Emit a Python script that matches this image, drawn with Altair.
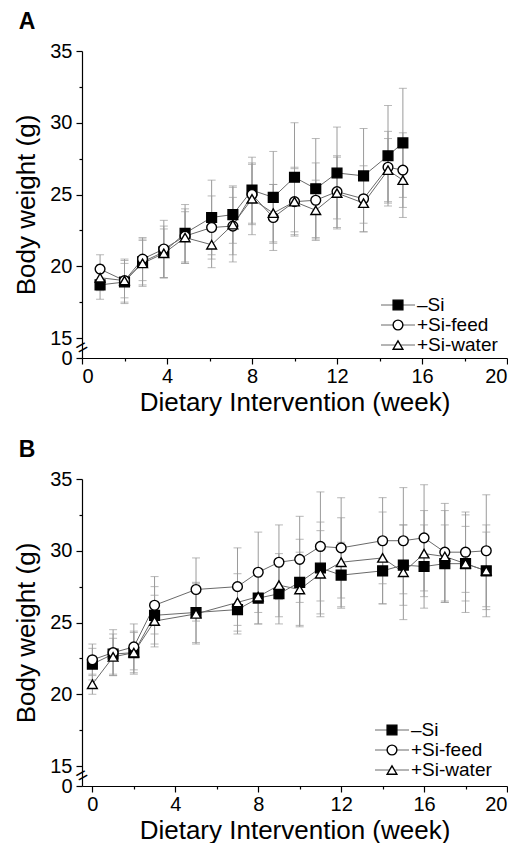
import altair as alt
import pandas as pd

FONT = "Liberation Sans"
series = ["\u2013Si", "+Si-feed", "+Si-water"]
shapes = ["square", "circle", "triangle-up"]
fills = ["black", "white", "white"]
sizes = [95, 95, 140]

# Panel A
weeks_a = [0.85, 2.0, 2.85, 3.85, 4.85, 6.1, 7.1, 8.0, 9.0, 10.0, 11.0, 12.0, 13.25, 14.4, 15.1]
a_nosi = [18.7, 18.9, 20.3, 21.0, 22.3, 23.4, 23.6, 25.3, 24.8, 26.2, 25.4, 26.5, 26.3, 27.7, 28.6]
a_nosi_sd = [1.0, 1.5, 1.6, 1.8, 2.0, 2.6, 2.0, 2.3, 3.2, 3.8, 3.5, 3.2, 3.3, 3.5, 3.8]
a_feed = [19.8, 19.0, 20.5, 21.2, 22.1, 22.7, 22.8, 25.0, 23.4, 24.5, 24.6, 25.2, 24.7, 26.9, 26.7]
a_feed_sd = [1.0, 1.2, 1.5, 2.0, 1.9, 2.2, 2.0, 2.1, 2.3, 2.3, 2.6, 2.5, 2.3, 2.5, 2.6]
a_water = [19.2, 19.0, 20.2, 20.9, 22.0, 21.5, 22.9, 24.7, 23.7, 24.5, 23.9, 25.1, 24.4, 26.7, 26.0]
a_water_sd = [0.9, 1.5, 1.6, 1.7, 1.8, 1.6, 2.6, 2.5, 2.0, 2.4, 2.1, 2.5, 2.0, 2.2, 2.6]

# Panel B
weeks_b = [0, 1, 2, 3, 5, 7, 8, 9, 10, 11, 12, 14, 15, 16, 17, 18, 19]
b_nosi = [22.1, 22.8, 22.9, 25.5, 25.7, 25.9, 26.7, 27.0, 27.8, 28.8, 28.3, 28.6, 29.0, 28.9, 29.1, 29.1, 28.6]
b_nosi_sd = [1.1, 1.4, 1.5, 2.0, 2.1, 1.7, 1.8, 2.1, 3.0, 3.2, 2.3, 2.3, 2.8, 2.9, 2.7, 2.6, 2.7]
b_feed = [22.4, 22.9, 23.3, 26.2, 27.3, 27.5, 28.5, 29.2, 29.4, 30.3, 30.2, 30.7, 30.7, 30.9, 29.9, 29.9, 30.0]
b_feed_sd = [1.1, 1.6, 1.6, 2.0, 2.2, 2.7, 2.8, 2.6, 3.0, 3.8, 3.5, 3.0, 3.7, 3.7, 3.4, 2.8, 3.9]
b_water = [20.7, 22.6, 22.9, 25.1, 25.6, 26.4, 26.8, 27.6, 27.3, 28.4, 29.2, 29.5, 28.5, 29.8, 29.6, 29.1, 28.6]
b_water_sd = [0.7, 1.3, 1.4, 1.8, 2.1, 2.0, 1.9, 2.2, 2.6, 3.0, 3.1, 3.2, 3.3, 3.0, 3.2, 3.4, 3.2]

x_ticks = [0, 2, 4, 6, 8, 10, 12, 14, 16, 18, 20]
y_ticks = [0, 15, 17.5, 20, 22.5, 25, 27.5, 30, 32.5, 35]


def build_df(weeks, groups):
    rows = []
    for name, (vals, sds) in zip(series, groups):
        for w, v, s in zip(weeks, vals, sds):
            rows.append({"series": name, "week": w, "bw": v, "lo": v - s, "hi": v + s})
    return pd.DataFrame(rows)


df_a = build_df(weeks_a, [(a_nosi, a_nosi_sd), (a_feed, a_feed_sd), (a_water, a_water_sd)])
df_b = build_df(weeks_b, [(b_nosi, b_nosi_sd), (b_feed, b_feed_sd), (b_water, b_water_sd)])

H = 307
GAP = 20
shape_enc = alt.Shape("series:N", scale=alt.Scale(domain=series, range=shapes), legend=None)
fill_enc = alt.Fill("series:N", scale=alt.Scale(domain=series, range=fills), legend=None)
size_enc = alt.Size("series:N", scale=alt.Scale(domain=series, range=sizes), legend=None)


def panel(df, xdomain, width, label, lx, ly):
    xs = alt.Scale(domain=xdomain, nice=False, zero=False)
    ys = alt.Scale(domain=[0, 15, 35], range=[H, H - GAP, 0], nice=False, zero=False)
    x = alt.X("week:Q", scale=xs,
              axis=alt.Axis(values=x_ticks, tickCount=30, format="d", title="Dietary Intervention (week)",
                            labelExpr="datum.value % 4 == 0 ? datum.label : ''",
                            tickSize={"condition": {"test": "datum.value % 4 != 0", "value": 3}, "value": 6},
                            labelOverlap=False, labelPadding=2, titlePadding=3, grid=False))
    y = alt.Y("bw:Q", scale=ys,
              axis=alt.Axis(values=y_ticks, tickCount=30, format="d", title="Body weight (g)",
                            labelExpr="datum.value % 5 == 0 ? datum.label : ''",
                            tickSize={"condition": {"test": "datum.value % 5 != 0", "value": 3}, "value": 6},
                            labelOverlap=False, labelPadding=4, titlePadding=10, grid=False))
    base = alt.Chart(df)
    bars = base.mark_rule(color="#9a9a9a", strokeWidth=1).encode(x=x, y=alt.Y("lo:Q", scale=ys), y2="hi:Q")
    cap_lo = base.mark_tick(color="#9a9a9a", orient="horizontal", size=8, thickness=1).encode(
        x=x, y=alt.Y("lo:Q", scale=ys))
    cap_hi = base.mark_tick(color="#9a9a9a", orient="horizontal", size=8, thickness=1).encode(
        x=x, y=alt.Y("hi:Q", scale=ys))
    lines = base.mark_line(color="#6a6a6a", strokeWidth=1).encode(
        x=x, y=y, detail="series:N", order="week:Q")
    pts = base.mark_point(filled=True, stroke="black", strokeWidth=1.4, opacity=1).encode(
        x=x, y=y, shape=shape_enc, fill=fill_enc, size=size_enc)
    brk = alt.Chart(pd.DataFrame({"t": ["="]})).mark_text(
        fontSize=20, angle=330, color="black", font=FONT).encode(
        text="t:N", x=alt.datum(xdomain[0]), y=alt.datum(7.5))
    layers = [bars, cap_lo, cap_hi, lines, pts, brk]
    for i, s in enumerate(series):
        one = alt.Chart(pd.DataFrame({"series": [s]}))
        yy = alt.value(ly + 20 * i)
        layers.append(one.mark_rule(color="#6a6a6a", strokeWidth=1).encode(
            x=alt.value(lx - 17), x2=alt.value(lx + 17), y=yy))
        layers.append(one.mark_point(filled=True, stroke="black", strokeWidth=1.4, opacity=1).encode(
            x=alt.value(lx), y=yy, shape=shape_enc, fill=fill_enc, size=size_enc))
        layers.append(one.mark_text(align="left", baseline="middle", fontSize=19, font=FONT,
                                    color="black").encode(
            x=alt.value(lx + 19), y=yy, text="series:N"))
    return alt.layer(*layers).properties(
        width=width, height=H,
        title=alt.TitleParams(label, anchor="start", fontSize=23, fontWeight="bold",
                              font=FONT, offset=7, dx=5))


pa = panel(df_a, [0, 20], 425, "A", 316, 254)
pb = panel(df_b, [-0.5, 20], 425, "B", 310, 251)

chart = alt.vconcat(pa, pb, spacing=24).properties(
    padding={"left": 5, "top": 3, "right": 0, "bottom": 0}
).configure_view(stroke=None).configure_axis(
    labelFont=FONT, titleFont=FONT, labelFontSize=20, titleFontSize=26,
    titleFontWeight="normal", labelColor="black", titleColor="black",
    domainColor="black", tickColor="black", domainWidth=1.2, tickWidth=1.2
)

chart.save("out.html", embed_options={"renderer": "svg", "actions": False})
